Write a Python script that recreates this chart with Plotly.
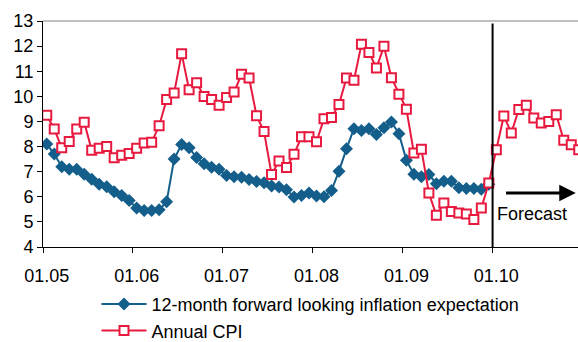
import plotly.graph_objects as go

# Monthly observations, Jan 2005 .. Dec 2010 (month index 0 = Jan 2005)
expectation = [
    8.10, 7.70, 7.20, 7.10, 7.10, 6.90, 6.70, 6.50, 6.40, 6.20, 6.05, 5.85,
    5.55, 5.45, 5.45, 5.48, 5.80, 7.50, 8.08, 7.95, 7.56, 7.32, 7.18, 7.10,
    6.85, 6.80, 6.78, 6.69, 6.61, 6.56, 6.43, 6.39, 6.28, 5.99, 6.05, 6.15,
    6.03, 6.00, 6.25, 7.02, 7.91, 8.71, 8.64, 8.71, 8.48, 8.75, 8.98, 8.51,
    7.45, 6.90, 6.80, 6.89, 6.52, 6.62, 6.62, 6.36, 6.33, 6.33, 6.30, 6.50,
]
annual_cpi = [
    9.25, 8.70, 7.95, 8.20, 8.70, 8.97, 7.85, 7.93, 8.00, 7.55, 7.65, 7.72,
    7.93, 8.14, 8.17, 8.83, 9.87, 10.13, 11.70, 10.26, 10.54, 9.99, 9.87, 9.64,
    9.95, 10.17, 10.88, 10.73, 9.23, 8.60, 6.89, 7.42, 7.17, 7.69, 8.39, 8.39,
    8.19, 9.11, 9.16, 9.67, 10.73, 10.64, 12.07, 11.75, 11.13, 11.99, 10.74, 10.08,
    9.49, 7.74, 7.89, 6.15, 5.26, 5.75, 5.41, 5.35, 5.31, 5.10, 5.55, 6.55,
    7.87, 9.22, 8.54, 9.48, 9.64, 9.14, 8.94, 9.00, 9.27, 8.25, 8.07, 7.87,
]
year_labels = ["01.05", "01.06", "01.07", "01.08", "01.09", "01.10"]
forecast_start = 60  # Jan 2010

FONT = "Liberation Sans, Arial, sans-serif"
FS = 18
BLUE = "#135E8A"
RED = "#E8193F"

months_exp = list(range(len(expectation)))
months_cpi = list(range(len(annual_cpi)))

fig = go.Figure()
fig.add_trace(go.Scatter(
    x=months_exp, y=expectation, mode="lines+markers",
    name="12-month forward looking inflation expectation",
    line=dict(color=BLUE, width=2),
    marker=dict(symbol="diamond", size=10, color=BLUE),
))
fig.add_trace(go.Scatter(
    x=months_cpi, y=annual_cpi, mode="lines+markers",
    name="Annual CPI",
    line=dict(color=RED, width=2),
    marker=dict(symbol="square", size=9, color="white",
                line=dict(color=RED, width=2)),
))

# Year labels sit at each January, tick marks on the year boundaries
label_pos = [12 * k for k in range(len(year_labels))]
boundaries = [12 * k - 0.5 for k in range(len(year_labels) + 1)]

fig.update_xaxes(
    range=[-0.5, 70.9],
    tickmode="array", tickvals=label_pos, ticktext=year_labels,
    ticks="", ticklabelstandoff=12,
    minor=dict(tickmode="array", tickvals=boundaries, ticks="outside",
               ticklen=5, tickcolor="black", showgrid=False),
    showline=True, linecolor="black", linewidth=1,
    showgrid=False, zeroline=False,
    tickfont=dict(family=FONT, size=FS, color="black"),
)
fig.update_yaxes(
    range=[4, 13], dtick=1, tick0=4,
    ticks="outside", ticklen=5, tickcolor="black",
    showline=True, linecolor="black", linewidth=1,
    showgrid=False, zeroline=False,
    tickfont=dict(family=FONT, size=FS, color="black"),
)

# Forecast divider, top frame edge, arrow and caption
fig.add_shape(type="line", xref="x", yref="y",
              x0=forecast_start - 0.5, x1=forecast_start - 0.5, y0=4, y1=12.9,
              line=dict(color="black", width=2))
fig.add_shape(type="line", xref="paper", yref="paper",
              x0=0, x1=1, y0=1, y1=1, line=dict(color="#808080", width=1))
fig.add_annotation(x=70.6, y=6.15, ax=61.1, ay=6.15, xref="x", yref="y",
                   axref="x", ayref="y", text="", showarrow=True,
                   arrowhead=2, arrowsize=1.1, arrowwidth=3, arrowcolor="black")
fig.add_annotation(x=64.8, y=5.33, xref="x", yref="y", text="Forecast",
                   showarrow=False,
                   font=dict(family=FONT, size=FS, color="black"))

fig.update_layout(
    width=578, height=342,
    margin=dict(l=43, r=0, t=21, b=95, autoexpand=False),
    plot_bgcolor="white", paper_bgcolor="white",
    showlegend=True,
    legend=dict(orientation="v", x=0.1, xanchor="left", y=-0.172, yanchor="top",
                itemwidth=45,
                font=dict(family=FONT, size=FS, color="black"),
                bgcolor="rgba(0,0,0,0)", tracegroupgap=0),
)

fig.write_html("out.html")
